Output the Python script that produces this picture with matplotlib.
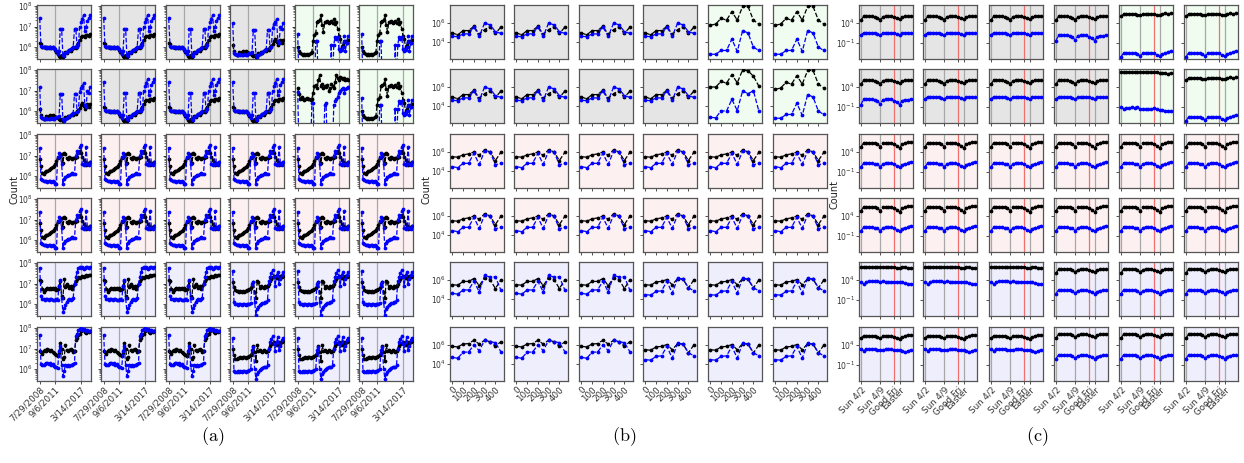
import numpy as np
import matplotlib
matplotlib.use("Agg")
import matplotlib.pyplot as plt
from matplotlib.ticker import NullLocator

# =====================================================
# Data (log10 of counts)
# =====================================================

# ---- panel (a): 40 points, index axis ----
a_x = np.arange(40)
a_tick_pos = [0, 12, 32]
a_tick_labels = ["7/29/2008", "9/6/2011", "3/14/2017"]
a_event_lines = [12, 32]

a_gray1_k = [6.2, 6.15, 6.0, 6.0, 6.0, 5.95, 6.0, 5.95, 6.0, 5.95, 6.0, 5.95, 5.85, 5.75, 5.65, 5.55,
             5.5, 5.6, 5.5, 5.65, 5.75, 5.7, 5.8, 5.85, 5.8, 5.9, 5.95, 6.0, 5.95, 6.1, 6.2, 6.35,
             6.5, 6.55, 6.55, 6.5, 6.6, 6.6, 6.55, 6.65]
a_gray1_b = [7.4, 6.05, 6.0, 6.0, 5.98, 6.0, 5.95, 6.0, 6.0, 5.95, 6.0, 5.95, 5.9, 5.8, 5.65, 5.8,
             6.9, 6.9, 5.6, 5.55, 5.7, 5.75, 5.8, 5.85, 5.9, 5.95, 6.0, 6.9, 6.9, 6.0, 6.1, 7.0,
             7.2, 7.35, 7.55, 6.8, 7.0, 7.25, 7.4, 7.55]
a_gray2_k = [6.1, 5.8, 5.65, 5.6, 5.6, 5.75, 5.7, 5.75, 5.8, 5.75, 5.8, 5.75, 5.7, 5.7, 5.65, 5.6,
             5.55, 5.6, 5.5, 5.55, 5.7, 5.65, 5.75, 5.7, 5.8, 5.85, 5.8, 5.9, 5.85, 6.0, 6.05, 6.15,
             6.3, 6.4, 6.25, 6.1, 6.2, 6.35, 6.2, 6.35]
a_gray2_b = [7.15, 5.7, 5.65, 5.6, 5.6, 5.65, 5.6, 5.6, 5.6, 5.65, 5.6, 5.6, 5.65, 5.7, 5.7, 5.75,
             6.85, 6.85, 5.6, 5.5, 5.6, 5.65, 5.7, 5.75, 5.8, 5.85, 5.9, 6.85, 6.85, 5.95, 6.0, 6.95,
             7.1, 7.2, 7.35, 6.3, 6.2, 7.0, 6.9, 7.15]
a_green1_k = [6.0, 5.8, 5.7, 5.65, 5.6, 5.65, 5.6, 5.65, 5.6, 5.65, 5.7, 5.75, 6.3, 6.6, 6.7, 7.2,
              7.25, 7.3, 7.55, 7.05, 6.75, 7.2, 7.2, 7.25, 7.15, 7.2, 7.25, 7.15, 7.35, 7.1, 7.2, 6.9,
              6.55, 6.4, 6.0, 6.1, 6.25, 6.3, 6.2, 6.35]
a_green1_b = [6.65, 4.0, 4.0, 4.0, 4.0, 4.0, 4.0, 4.0, 4.0, 4.0, 4.0, 4.0, 4.0, 4.0, 6.3, 6.3,
              4.0, 4.0, 4.0, 4.0, 4.0, 4.0, 4.0, 4.0, 4.0, 4.0, 6.1, 4.0, 6.1, 6.5, 6.4, 6.5,
              5.9, 5.8, 5.85, 6.0, 6.55, 5.8, 6.2, 6.55]
a_green2_k = [7.1, 6.85, 6.6, 6.7, 6.6, 6.55, 6.6, 6.65, 6.6, 6.6, 6.55, 6.6, 6.9, 7.2, 7.25, 7.1,
              7.5, 7.75, 7.2, 7.3, 7.1, 7.2, 7.15, 7.25, 7.0, 7.1, 7.3, 7.2, 7.1, 7.4, 7.75, 7.6,
              7.5, 7.65, 7.6, 7.55, 7.6, 7.5, 7.55, 7.5]
a_green2_b = [6.95, 4.0, 4.0, 4.0, 4.0, 4.0, 4.0, 4.0, 4.0, 4.0, 4.0, 6.4, 6.4, 4.0, 4.0, 4.0,
              4.0, 4.0, 4.0, 4.0, 4.0, 6.3, 6.4, 4.0, 4.0, 4.0, 4.0, 4.0, 6.3, 6.5, 6.6, 6.7,
              6.9, 7.0, 7.05, 7.1, 6.9, 7.05, 7.1, 7.15]
a_pink_k = [6.85, 6.5, 6.15, 6.1, 6.2, 6.25, 6.25, 6.3, 6.35, 6.4, 6.45, 6.5, 6.6, 6.75, 6.9, 6.95,
            7.0, 7.05, 6.65, 7.1, 7.05, 6.9, 6.85, 6.95, 6.9, 6.85, 6.9, 6.9, 6.95, 6.95, 7.15, 7.2,
            7.1, 6.95, 6.8, 6.7, 6.55, 6.6, 6.65, 6.7]
a_pink_b = [7.35, 5.85, 5.8, 5.75, 5.75, 5.75, 5.7, 5.75, 5.75, 5.7, 5.75, 5.7, 5.6, 5.6, 6.95, 7.1,
            7.0, 6.6, 5.6, 5.85, 5.95, 6.0, 6.05, 6.05, 6.1, 6.15, 6.1, 6.1, 7.0, 7.2, 7.1, 7.4,
            7.5, 6.6, 6.55, 6.6, 7.4, 6.6, 6.55, 6.7]
a_lav1_k = [7.15, 7.1, 6.75, 6.6, 6.7, 6.75, 6.8, 6.75, 6.8, 6.75, 6.8, 6.75, 6.8, 6.7, 6.75, 6.9,
            7.1, 6.4, 6.3, 7.2, 6.85, 7.0, 6.9, 6.8, 6.9, 6.75, 6.9, 7.0, 7.1, 7.2, 7.3, 7.25,
            7.3, 7.35, 7.3, 7.35, 7.4, 7.35, 7.4, 7.4]
a_lav1_b = [7.75, 6.4, 6.25, 6.25, 6.2, 6.25, 6.25, 6.2, 6.25, 6.25, 6.2, 6.2, 6.2, 6.25, 6.2, 6.9,
            7.15, 6.3, 5.6, 5.8, 5.95, 6.1, 6.2, 6.25, 6.2, 6.25, 6.3, 7.0, 7.3, 7.55, 7.75, 7.8,
            7.75, 7.8, 7.7, 7.75, 7.8, 7.8, 7.75, 7.8]
a_lav2_k = [7.05, 6.85, 6.7, 6.65, 6.65, 6.6, 6.65, 6.6, 6.65, 6.6, 6.65, 6.7, 6.7, 6.75, 6.8, 6.9,
            7.05, 6.6, 6.3, 7.1, 7.05, 6.8, 6.9, 6.85, 6.8, 6.9, 6.85, 6.9, 7.0, 7.1, 7.2, 7.3,
            7.35, 7.3, 7.25, 7.3, 7.2, 7.35, 7.3, 7.35]
a_lav2_b = [7.6, 6.1, 6.0, 6.0, 5.95, 6.0, 6.0, 5.95, 6.0, 6.0, 5.95, 6.0, 6.0, 6.0, 6.05, 7.0,
            7.05, 6.1, 5.45, 5.75, 5.85, 5.95, 6.0, 6.05, 6.05, 6.1, 6.1, 6.2, 7.1, 7.3, 7.5, 7.65,
            7.3, 6.9, 7.4, 7.55, 7.0, 7.2, 7.4, 7.55]
a_lav3_k = [6.9, 6.85, 6.75, 6.9, 6.95, 6.9, 7.0, 6.95, 6.9, 6.95, 6.85, 6.8, 6.75, 6.7, 6.65, 6.8,
            7.25, 7.0, 6.5, 6.6, 7.15, 6.95, 6.9, 6.95, 7.0, 6.95, 6.85, 6.9, 7.4, 7.5, 7.65, 7.7,
            7.85, 7.9, 7.9, 7.8, 7.75, 7.85, 7.8, 7.85]
a_lav3_b = [7.65, 6.25, 6.2, 6.2, 6.25, 6.3, 6.3, 6.25, 6.3, 6.2, 6.25, 6.15, 6.1, 6.1, 6.05, 6.9,
            7.1, 6.2, 5.65, 5.9, 6.2, 6.15, 6.2, 6.15, 6.2, 6.2, 6.25, 6.3, 7.6, 7.7, 7.9, 7.95,
            8.0, 7.9, 7.95, 7.9, 7.85, 7.9, 7.85, 7.85]
a_lav4_k = [7.0, 6.7, 6.5, 6.5, 6.55, 6.55, 6.6, 6.55, 6.6, 6.6, 6.55, 6.6, 6.6, 6.65, 6.7, 6.8,
            7.1, 6.85, 6.4, 7.15, 6.9, 6.95, 6.9, 6.85, 6.95, 6.9, 6.85, 6.9, 7.0, 7.1, 7.2, 7.25,
            7.3, 7.2, 7.15, 7.25, 7.3, 7.2, 7.3, 7.35]
a_lav4_b = [7.5, 5.9, 5.85, 5.85, 5.9, 5.85, 5.9, 5.85, 5.9, 5.9, 5.85, 5.9, 5.9, 5.95, 6.0, 6.95,
            7.05, 6.0, 5.5, 5.75, 5.85, 5.95, 6.0, 6.05, 6.1, 6.1, 6.1, 6.2, 7.0, 7.3, 7.45, 7.6,
            7.2, 6.9, 7.3, 7.55, 6.95, 7.1, 7.4, 7.5]

# ---- panel (b): 10 points ----
b_x = [0, 50, 100, 150, 200, 250, 300, 350, 400, 450]
b_tick_pos = [0, 100, 200, 300, 400]
b_tick_labels = ["0", "100", "200", "300", "400"]

b_gray_k = [4.95, 4.75, 5.2, 5.2, 5.65, 4.8, 5.3, 5.6, 4.9, 5.55]
b_gray_b = [4.6, 4.55, 4.85, 4.85, 5.6, 4.6, 6.0, 5.8, 5.1, 4.9]
b_green1_k = [5.75, 5.9, 6.5, 6.3, 7.2, 6.3, 7.75, 7.75, 6.3, 5.9]
b_green1_b = [2.7, 2.7, 3.1, 3.1, 4.3, 3.0, 5.2, 4.95, 3.45, 3.1]
b_green2_k = [6.0, 6.0, 6.6, 6.4, 7.3, 6.45, 7.8, 7.7, 7.15, 6.1]
b_green2_b = [2.8, 2.75, 3.5, 3.45, 4.7, 3.5, 5.6, 5.3, 5.6, 3.5]
b_pink_k = [5.5, 5.45, 5.7, 5.8, 6.0, 5.65, 6.25, 6.0, 5.1, 5.95]
b_pink_b = [4.45, 4.35, 4.8, 4.8, 5.85, 4.7, 6.1, 6.0, 4.65, 4.8]
b_lav1_k = [5.5, 5.45, 5.85, 5.85, 6.15, 5.4, 6.25, 6.05, 5.1, 6.0]
b_lav1_b = [4.6, 4.5, 4.95, 4.95, 5.85, 4.75, 6.5, 6.3, 6.35, 4.95]
b_lav2_k = [5.5, 5.45, 5.8, 5.85, 6.05, 5.5, 6.15, 6.1, 5.15, 6.0]
b_lav2_b = [4.45, 4.4, 4.8, 4.85, 5.85, 4.6, 6.2, 6.1, 5.2, 4.85]
b_lav3_k = [5.85, 5.8, 6.1, 6.15, 6.5, 6.1, 6.5, 6.35, 5.85, 6.35]
b_lav3_b = [4.7, 4.6, 5.25, 5.25, 6.0, 5.4, 6.5, 6.35, 6.25, 5.3]

# ---- panel (c): 19 daily points ----
c_x = np.arange(19)
c_tick_pos = [0, 7, 12, 14]
c_tick_labels = ["Sun 4/2", "Sun 4/9", "Good Fri", "Easter"]
c_gray_lines = [0, 7, 14]
c_red_lines = [12]

c_gray_k = [4.7, 5.65, 5.7, 5.7, 5.65, 5.6, 5.35, 4.85, 5.6, 5.7, 5.7, 5.65, 5.45, 5.2, 4.9, 5.5,
            5.65, 5.65, 5.7]
c_gray_b = [1.0, 1.55, 1.6, 1.6, 1.55, 1.5, 1.3, 0.95, 1.5, 1.6, 1.6, 1.55, 1.4, 1.15, 0.9, 1.4,
            1.5, 1.55, 1.6]
c_gray2_b = [-0.4, 0.9, 0.95, 0.95, 0.9, 0.85, 0.5, -0.3, 0.85, 1.0, 1.0, 0.9, 0.6, 0.3, -0.4, 0.6,
             0.8, 0.85, 0.9]
c_green1_k = [5.7, 6.25, 6.25, 6.25, 6.25, 6.2, 6.1, 5.9, 6.2, 6.25, 6.25, 6.25, 6.2, 6.1, 5.95, 6.2,
              6.4, 6.3, 6.4]
c_green1_b = [-4.5, -3.5, -3.5, -3.5, -3.5, -3.6, -3.8, -4.2, -3.6, -3.5, -3.5, -3.5, -3.6, -3.9,
              -4.2, -3.8, -3.5, -3.3, -3.0]
c_green2_k = [7.8, 7.7, 7.75, 7.75, 7.75, 7.75, 7.7, 7.7, 7.75, 7.75, 7.7, 7.7, 7.7, 7.65, 7.6, 7.6,
              7.5, 7.3, 7.5]
c_green2_b = [-0.9, -1.5, -1.2, -1.2, -1.1, -1.2, -0.9, -1.6, -1.5, -1.5, -1.4, -1.5, -1.3, -1.5,
              -1.7, -1.8, -1.9, -1.9, -2.0]
c_pink_k = [5.3, 6.25, 6.3, 6.3, 6.3, 6.25, 6.0, 5.3, 6.2, 6.3, 6.3, 6.25, 6.05, 5.6, 5.0, 5.9,
            6.35, 6.4, 6.4]
c_pink_b = [0.3, 1.15, 1.2, 1.2, 1.15, 1.1, 0.9, 0.3, 1.1, 1.2, 1.2, 1.15, 1.0, 0.6, 0.3, 0.8,
            1.1, 1.3, 1.6]
c_lav1_k = [7.15, 7.25, 7.25, 7.3, 7.25, 7.25, 7.2, 7.15, 7.2, 7.25, 7.2, 7.2, 7.15, 7.1, 7.05, 7.15,
            7.25, 7.1, 7.05]
c_lav1_b = [3.6, 3.0, 3.6, 3.65, 3.7, 3.65, 3.7, 3.6, 3.65, 3.6, 3.6, 3.55, 3.5, 3.5, 3.45, 3.6,
            3.3, 3.1, 3.1]
c_lav2_k = [5.7, 6.7, 6.75, 6.75, 6.7, 6.7, 6.5, 6.0, 6.6, 6.7, 6.7, 6.65, 6.5, 6.3, 6.0, 6.4,
            6.7, 6.75, 6.75]
c_lav2_b = [0.6, 1.5, 1.5, 1.5, 1.45, 1.4, 1.2, 0.7, 1.3, 1.45, 1.45, 1.4, 1.2, 0.9, 0.6, 1.1,
            1.35, 1.45, 1.5]
c_lav3_k = [5.7, 6.3, 6.3, 6.3, 6.25, 6.25, 6.05, 5.7, 6.2, 6.3, 6.3, 6.25, 6.1, 5.8, 5.6, 6.0,
            6.3, 6.5, 6.6]
c_lav3_b = [2.9, 2.6, 2.9, 2.9, 2.9, 2.9, 2.85, 2.85, 2.85, 2.9, 2.9, 2.9, 2.85, 2.85, 2.8, 2.6,
            2.3, 2.4, 2.8]

# which series pair sits in each cell (row by row)
a_grid = [
    ["gray1", "gray1", "gray1", "gray2", "green1", "green1"],
    ["gray2", "gray1", "gray1", "gray1", "green2", "green1"],
    ["pink"] * 6,
    ["pink"] * 6,
    ["lav1", "lav1", "lav1", "lav2", "lav2", "lav2"],
    ["lav3", "lav3", "lav3", "lav4", "lav4", "lav4"],
]
b_grid = [
    ["gray", "gray", "gray", "gray", "green1", "green1"],
    ["gray", "gray", "gray", "gray", "green2", "green1"],
    ["pink"] * 6,
    ["pink"] * 6,
    ["lav1", "lav1", "lav1", "lav2", "lav2", "lav2"],
    ["lav3", "lav3", "lav3", "lav2", "lav2", "lav2"],
]
c_grid = [
    ["gray", "gray", "gray", "gray2", "green1", "green1"],
    ["gray2", "gray", "gray", "gray", "green2", "green1"],
    ["pink"] * 6,
    ["pink"] * 6,
    ["lav1", "lav1", "lav1", "lav2", "lav2", "lav2"],
    ["lav3", "lav3", "lav3", "lav2", "lav2", "lav2"],
]

a_series = {
    "gray1": (a_gray1_k, a_gray1_b), "gray2": (a_gray2_k, a_gray2_b),
    "green1": (a_green1_k, a_green1_b), "green2": (a_green2_k, a_green2_b),
    "pink": (a_pink_k, a_pink_b),
    "lav1": (a_lav1_k, a_lav1_b), "lav2": (a_lav2_k, a_lav2_b),
    "lav3": (a_lav3_k, a_lav3_b), "lav4": (a_lav4_k, a_lav4_b),
}
b_series = {
    "gray": (b_gray_k, b_gray_b),
    "green1": (b_green1_k, b_green1_b), "green2": (b_green2_k, b_green2_b),
    "pink": (b_pink_k, b_pink_b),
    "lav1": (b_lav1_k, b_lav1_b), "lav2": (b_lav2_k, b_lav2_b), "lav3": (b_lav3_k, b_lav3_b),
}
c_series = {
    "gray": (c_gray_k, c_gray_b), "gray2": (c_gray_k, c_gray2_b),
    "green1": (c_green1_k, c_green1_b), "green2": (c_green2_k, c_green2_b),
    "pink": (c_pink_k, c_pink_b),
    "lav1": (c_lav1_k, c_lav1_b), "lav2": (c_lav2_k, c_lav2_b), "lav3": (c_lav3_k, c_lav3_b),
}

# =====================================================
# Layout / style
# =====================================================

W, H = 1244, 463
AX_W, AX_H = 54, 54
row_tops = [5, 69, 134, 198, 262, 327]
col_lefts = {
    "a": [37, 101, 166, 230, 295, 359],
    "b": [450, 514, 579, 643, 708, 773],
    "c": [859, 923, 989, 1054, 1119, 1184],
}

BG_GRAY = "#e5e5e5"
BG_GREEN = "#effcef"
BG_PINK = "#fdf0f0"
BG_LAV = "#eeeefc"


def bg_color(r, c):
    if r < 2:
        return BG_GRAY if c < 4 else BG_GREEN
    if r < 4:
        return BG_PINK
    return BG_LAV


fig = plt.figure(figsize=(W / 100, H / 100), dpi=100)


def make_axes(panel, r, c):
    l = col_lefts[panel][c]
    t = row_tops[r]
    ax = fig.add_axes([l / W, 1 - (t + AX_H) / H, AX_W / W, AX_H / H])
    ax.set_facecolor(bg_color(r, c))
    for s in ax.spines.values():
        s.set_color("#555555")
        s.set_linewidth(0.9)
    ax.set_yscale("log")
    ax.tick_params(labelsize=5.5, length=2, width=0.6, pad=1,
                   colors="#333333")
    ax.tick_params(which="minor", length=1.2, width=0.4)
    return ax


def draw_pair(ax, x, k, b):
    ax.plot(x, np.power(10.0, k), color="black", ls="--", lw=0.9,
            marker="o", ms=1.7, zorder=3)
    ax.plot(x, np.power(10.0, b), color="#0000ff", ls="--", lw=0.9,
            marker="o", ms=1.7, zorder=4)


def finish_ticks(ax, r, c, pos, labels):
    ax.set_xticks(pos)
    if r == 5:
        ax.set_xticklabels(labels, rotation=45, ha="right",
                           rotation_mode="anchor", fontsize=6.3)
    else:
        ax.set_xticklabels([])
    if c != 0:
        ax.tick_params(axis="y", labelleft=False)


# =====================================================
# Panel (a)
# =====================================================

for r in range(6):
    for c in range(6):
        ax = make_axes("a", r, c)
        for xv in a_event_lines:
            ax.axvline(xv, color="#a8a8a8", lw=0.9, zorder=1)
        k, b = a_series[a_grid[r][c]]
        draw_pair(ax, a_x, k, b)
        ax.set_xlim(-2.1, 39.8)
        ax.set_ylim(2.5e5, 1.15e8)
        ax.set_yticks([1e6, 1e7, 1e8])
        finish_ticks(ax, r, c, a_tick_pos, a_tick_labels)

# =====================================================
# Panel (b)
# =====================================================

for r in range(6):
    for c in range(6):
        ax = make_axes("b", r, c)
        k, b = b_series[b_grid[r][c]]
        draw_pair(ax, b_x, k, b)
        ax.set_xlim(-22, 480)
        ax.set_ylim(10 ** 2.2, 10 ** 7.9)
        ax.set_yticks([1e4, 1e6])
        ax.yaxis.set_minor_locator(NullLocator())
        finish_ticks(ax, r, c, b_tick_pos, b_tick_labels)

# =====================================================
# Panel (c)
# =====================================================

for r in range(6):
    for c in range(6):
        ax = make_axes("c", r, c)
        for xv in c_gray_lines:
            ax.axvline(xv, color="#a8a8a8", lw=0.9, zorder=1)
        for xv in c_red_lines:
            ax.axvline(xv, color="#f07070", lw=0.9, zorder=1)
        k, b = c_series[c_grid[r][c]]
        draw_pair(ax, c_x, k, b)
        ax.set_xlim(-0.7, 18.9)
        ax.set_ylim(1e-5, 10 ** 8.5)
        ax.set_yticks([1e-1, 1e4])
        ax.yaxis.set_minor_locator(NullLocator())
        finish_ticks(ax, r, c, c_tick_pos, c_tick_labels)

# =====================================================
# Labels
# =====================================================

for xp, yp in [(14, 190), (427, 190), (835, 195)]:
    fig.text(xp / W, 1 - yp / H, "Count", rotation=90,
             ha="center", va="center", fontsize=7, color="#222222")

for xp, lab in [(213, "(a)"), (624, "(b)"), (1037, "(c)")]:
    fig.text(xp / W, 1 - 437 / H, r"$\mathrm{" + lab + "}$",
             math_fontfamily="cm", ha="center", va="center", fontsize=13)

fig.savefig("out.png", dpi=100)
